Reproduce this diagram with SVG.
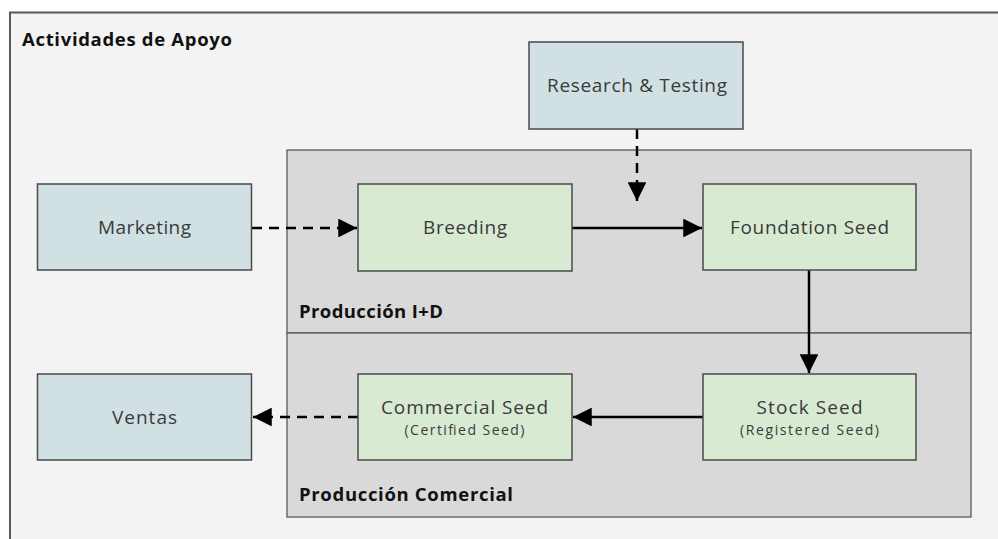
<svg xmlns="http://www.w3.org/2000/svg" width="998" height="539" viewBox="0 0 998 539">
  <style>
    .frame { fill: #f3f3f3; stroke: #595959; stroke-width: 2; }
    .zone { fill: #d9d9d9; stroke: #595959; stroke-width: 1.3; }
    .support { fill: #d0e0e3; stroke: #4a4a4a; stroke-width: 1.5; }
    .stage { fill: #d9ead3; stroke: #4a4a4a; stroke-width: 1.5; }
    .title { font-family: "Open Sans", Lato, "Liberation Sans", sans-serif; font-weight: bold; font-size: 18.5px; fill: #111; }
    .lbl { font-family: "Open Sans", Lato, "Liberation Sans", sans-serif; font-size: 19px; fill: #3a3a3a; text-anchor: middle; }
    .sub { font-family: "Open Sans", Lato, "Liberation Sans", sans-serif; font-size: 14px; fill: #3a3a3a; text-anchor: middle; }
    .solid { stroke: #000; stroke-width: 2.5; fill: none; }
    .dash { stroke: #000; stroke-width: 2.5; fill: none; stroke-dasharray: 10 7; }
  </style>
  <defs>
    <marker id="tip" viewBox="0 0 10 10" refX="10" refY="5" markerWidth="7.5" markerHeight="7.5" orient="auto" markerUnits="strokeWidth">
      <path d="M0,0 L10,5 L0,10 z" fill="#000"/>
    </marker>
  </defs>

  <rect width="998" height="539" fill="#ffffff"/>

  <!-- supporting activities frame (runs past the right and bottom edges) -->
  <g id="apoyo">
    <rect class="frame" x="10" y="12.5" width="1000" height="540"/>
    <text class="title" x="22" y="46" textLength="210">Actividades de Apoyo</text>
  </g>

  <!-- production zones -->
  <g id="produccion-id">
    <rect class="zone" x="287" y="150" width="684" height="183"/>
    <text class="title" x="299" y="318" textLength="144">Producción I+D</text>
  </g>
  <g id="produccion-comercial">
    <rect class="zone" x="287" y="333" width="684" height="184"/>
    <text class="title" x="299" y="501" textLength="214">Producción Comercial</text>
  </g>

  <!-- connectors -->
  <g id="connectors">
    <line class="dash" x1="252" y1="228" x2="357" y2="228" marker-end="url(#tip)"/>
    <line class="solid" x1="572" y1="228" x2="702" y2="228" marker-end="url(#tip)"/>
    <line class="dash" x1="637" y1="129" x2="637" y2="201" marker-end="url(#tip)"/>
    <line class="solid" x1="809" y1="270" x2="809" y2="373" marker-end="url(#tip)"/>
    <line class="solid" x1="703" y1="417" x2="573" y2="417" marker-end="url(#tip)"/>
    <line class="dash" x1="358" y1="417" x2="253" y2="417" marker-end="url(#tip)"/>
  </g>

  <!-- nodes -->
  <g id="research-testing">
    <rect class="support" x="529" y="42" width="214" height="87"/>
    <text class="lbl" x="637" y="92" textLength="180">Research &amp; Testing</text>
  </g>
  <g id="marketing">
    <rect class="support" x="37.5" y="184" width="214" height="86"/>
    <text class="lbl" x="144.5" y="234" textLength="93">Marketing</text>
  </g>
  <g id="breeding">
    <rect class="stage" x="358" y="184" width="214" height="87"/>
    <text class="lbl" x="465" y="234" textLength="84">Breeding</text>
  </g>
  <g id="foundation-seed">
    <rect class="stage" x="703" y="184" width="213" height="86"/>
    <text class="lbl" x="809.5" y="234" textLength="159">Foundation Seed</text>
  </g>
  <g id="stock-seed">
    <rect class="stage" x="703" y="374" width="213" height="86"/>
    <text class="lbl" x="809.5" y="414" textLength="106">Stock Seed</text>
    <text class="sub" x="809.5" y="435" textLength="139">(Registered Seed)</text>
  </g>
  <g id="commercial-seed">
    <rect class="stage" x="358" y="374" width="214" height="86"/>
    <text class="lbl" x="464.5" y="414" textLength="167">Commercial Seed</text>
    <text class="sub" x="464.5" y="435" textLength="120">(Certified Seed)</text>
  </g>
  <g id="ventas">
    <rect class="support" x="37.5" y="374" width="214" height="86"/>
    <text class="lbl" x="144.5" y="424" textLength="65">Ventas</text>
  </g>
</svg>
